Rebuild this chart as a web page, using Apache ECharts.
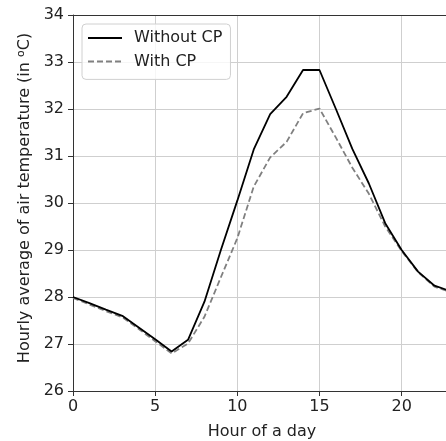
<!DOCTYPE html>
<html>
<head>
<meta charset="utf-8">
<script src="https://cdn.jsdelivr.net/npm/echarts@6/dist/echarts.min.js"></script>
<style>html,body{margin:0;padding:0;background:#fff;}#c{width:446px;height:441px;}</style>
</head>
<body>
<div id="c"></div>
<script>
const hours = [0,1,2,3,4,5,6,7,8,9,10,11,12,13,14,15,16,17,18,19,20,21,22,23];
const withoutCP = [28.0, 27.87, 27.73, 27.6, 27.35, 27.1, 26.84, 27.09, 27.9, 29.0, 30.05, 31.14, 31.89, 32.26, 32.83, 32.83, 32.0, 31.15, 30.42, 29.57, 29.0, 28.54, 28.24, 28.12];
const withCP = [27.98, 27.84, 27.7, 27.57, 27.32, 27.06, 26.8, 27.01, 27.58, 28.42, 29.25, 30.35, 30.97, 31.3, 31.91, 32.01, 31.39, 30.75, 30.2, 29.5, 28.98, 28.53, 28.22, 28.1];
const seriesNames = ['Without CP', 'With CP'];
const xLabel = 'Hour of a day';

const font = 'DejaVu Sans';
const txt = '#222';
const fs = 16;
const xMax = 22.7;
const chart = echarts.init(document.getElementById('c'), null, {renderer: 'canvas'});
chart.setOption({
  animation: false,
  backgroundColor: '#fff',
  textStyle: {fontFamily: font},
  grid: {left: 73, top: 15, right: 0, bottom: 50, containLabel: false, outerBoundsMode: 'none'},
  legend: {
    left: 82, top: 24, orient: 'vertical',
    data: seriesNames,
    itemWidth: 34, itemHeight: 18, itemGap: 5.4,
    padding: [5, 8, 9, 5],
    backgroundColor: 'rgba(255,255,255,0.8)',
    borderColor: '#d0d0d0', borderWidth: 1, borderRadius: 4,
    itemStyle: {opacity: 0},
    textStyle: {fontFamily: font, fontSize: fs, lineHeight: 18, color: txt, padding: [0, 0, 0, 7]}
  },
  xAxis: [{
    type: 'value', min: 0, max: xMax, interval: 5,
    name: xLabel, nameLocation: 'middle', nameGap: 33,
    nameTextStyle: {fontFamily: font, fontSize: fs, color: txt, padding: [0, 0, 0, 5]},
    axisLine: {show: true, onZero: false, lineStyle: {color: '#333', width: 1}},
    axisTick: {show: true, length: 5, inside: false, lineStyle: {color: '#333'}},
    axisLabel: {fontFamily: font, fontSize: fs, color: txt, margin: 8, showMaxLabel: false},
    splitLine: {show: true, showMaxLine: false, lineStyle: {color: '#cfcfcf', width: 1}}
  }, {
    type: 'value', position: 'top', min: 0, max: xMax,
    axisLine: {show: true, onZero: false, lineStyle: {color: '#333', width: 1}},
    axisTick: {show: false}, axisLabel: {show: false}, splitLine: {show: false}
  }],
  yAxis: {
    type: 'value', min: 26, max: 34, interval: 1,
    name: '{n|Hourly average of air temperature (in }{s|o}{n|C)}',
    nameLocation: 'middle', nameGap: 35, nameRotate: 90,
    nameTextStyle: {
      fontFamily: font, fontSize: fs, color: txt, padding: [0, 0, 0, 10],
      rich: {
        n: {fontFamily: font, fontSize: fs, color: txt},
        s: {fontFamily: font, fontSize: 11, color: txt, verticalAlign: 'top', padding: [0, 0, 7, 0]}
      }
    },
    axisLine: {show: true, lineStyle: {color: '#333', width: 1}},
    axisTick: {show: true, length: 5, inside: false, lineStyle: {color: '#333'}},
    axisLabel: {fontFamily: font, fontSize: fs, color: txt, margin: 9},
    splitLine: {show: true, lineStyle: {color: '#cfcfcf', width: 1}}
  },
  series: [
    {
      name: seriesNames[0], type: 'line', symbol: 'none', showSymbol: false,
      xAxisIndex: 0,
      data: hours.map((h, i) => [h, withoutCP[i]]),
      lineStyle: {color: '#000', width: 1.8},
      itemStyle: {color: '#000'},
      z: 3
    },
    {
      name: seriesNames[1], type: 'line', symbol: 'none', showSymbol: false,
      xAxisIndex: 0,
      data: hours.map((h, i) => [h, withCP[i]]),
      lineStyle: {color: '#808080', width: 1.8, type: [6, 3]},
      itemStyle: {color: '#808080'},
      z: 2
    }
  ]
});
</script>
</body>
</html>
